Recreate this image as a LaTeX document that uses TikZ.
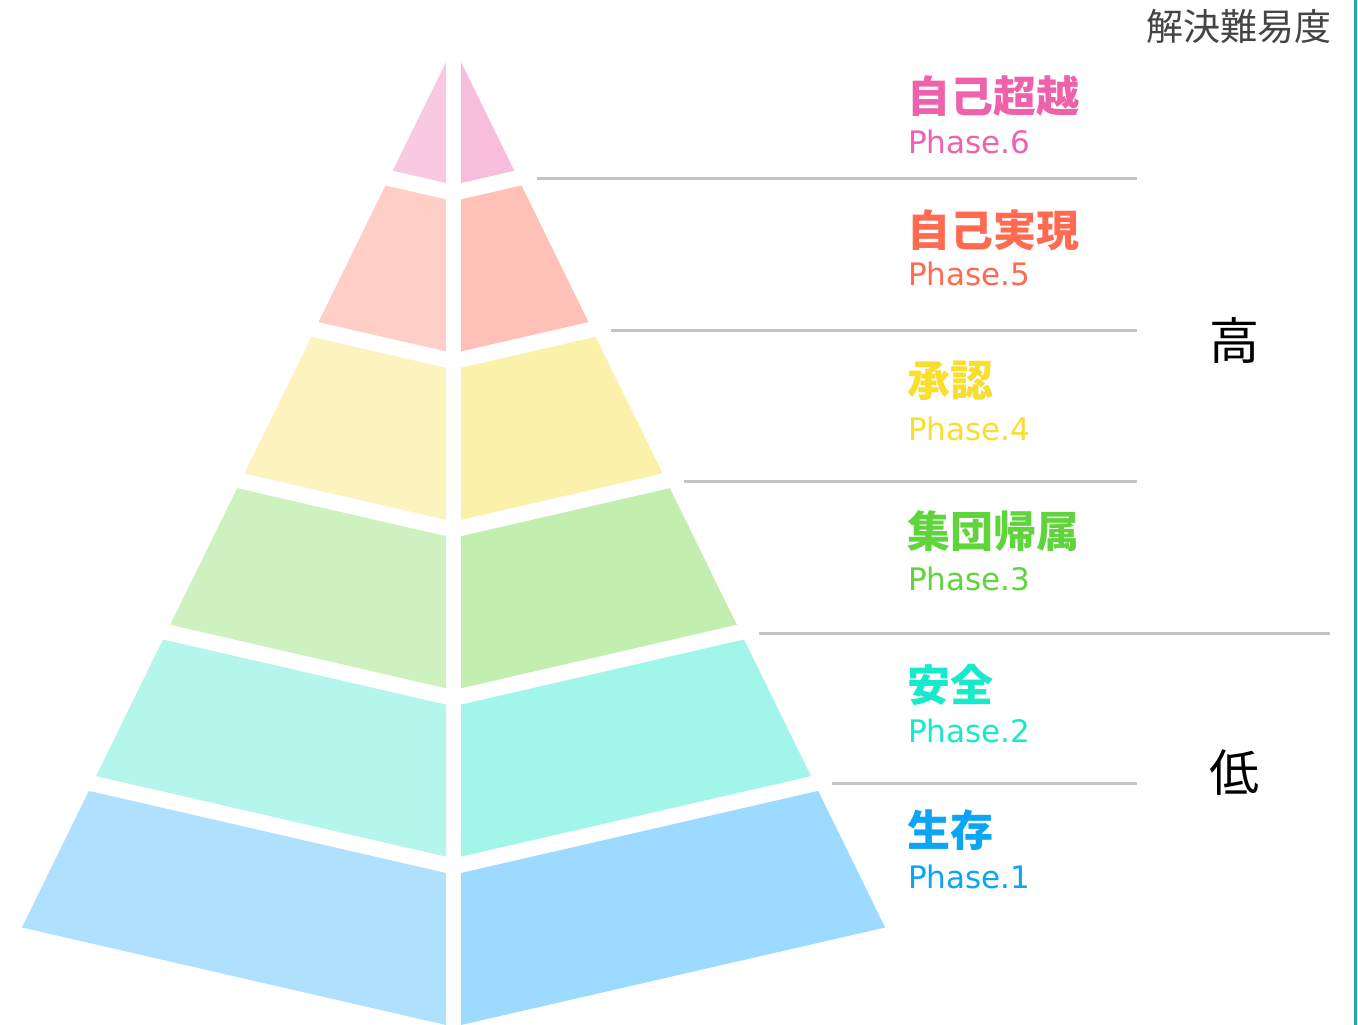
\documentclass[tikz,border=0pt]{standalone}
\usepackage{fontspec}
\newfontfamily\jp{Noto Sans CJK JP}
\newfontfamily\ph{DejaVu Sans}
\definecolor{b6l}{HTML}{F9C9E2}\definecolor{b6r}{HTML}{F8BDDC}
\definecolor{b5l}{HTML}{FFCEC6}\definecolor{b5r}{HTML}{FFC1B7}
\definecolor{b4l}{HTML}{FDF3BE}\definecolor{b4r}{HTML}{FCF1AA}
\definecolor{b3l}{HTML}{CEF2BF}\definecolor{b3r}{HTML}{C2EFAF}
\definecolor{b2l}{HTML}{B4F6EC}\definecolor{b2r}{HTML}{A1F5E9}
\definecolor{b1l}{HTML}{AFE1FF}\definecolor{b1r}{HTML}{9CDBFF}
\definecolor{c6}{HTML}{EF62AB}
\definecolor{c5}{HTML}{FF6A50}
\definecolor{c4}{HTML}{F9DE2E}
\definecolor{c3}{HTML}{60D43C}
\definecolor{c2}{HTML}{16EACB}
\definecolor{c1}{HTML}{0AA5F5}
\definecolor{sepgray}{HTML}{C4C4C4}
\definecolor{edge}{HTML}{22AAB4}
\definecolor{darkgray}{HTML}{444444}
\tikzset{
  title/.style={anchor=west, inner sep=0pt, font=\jp\bfseries\fontsize{43}{43}\selectfont},
  phase/.style={anchor=base west, inner sep=0pt, font=\ph\fontsize{31}{31}\selectfont},
  sepline/.style={draw=sepgray, line width=3pt},
  bigjp/.style={inner sep=0pt, font=\jp\fontsize{50}{50}\selectfont},
}
\begin{document}
\begin{tikzpicture}[x=1pt,y=-1pt]
\useasboundingbox (0,0) rectangle (1358,1025);
\fill[white] (0,0) rectangle (1358,1025);
% pyramid
\foreach \k/\cl/\cr in {1/b1l/b1r,2/b2l/b2r,3/b3l/b3r,4/b4l/b4r,5/b5l/b5r,6/b6l/b6r}{
  \pgfmathsetmacro\cb{1025-168.4*(\k-1)}
  \pgfmathsetmacro\ct{max(62,\cb-152)}
  \pgfmathsetmacro\db{0.4404*(\cb-62)}
  \pgfmathsetmacro\dt{0.4404*(\ct-62)}
  \fill[\cl] (446,\ct) -- ({446-\dt},{\ct-0.23*\dt}) -- ({446-\db},{\cb-0.23*\db}) -- (446,\cb) -- cycle;
  \fill[\cr] (461,\ct) -- ({461+\dt},{\ct-0.23*\dt}) -- ({461+\db},{\cb-0.23*\db}) -- (461,\cb) -- cycle;
}
% separator lines
\draw[sepline] (537,178) -- (1137,178);
\draw[sepline] (611,330) -- (1137,330);
\draw[sepline] (684,481) -- (1137,481);
\draw[sepline] (759,633) -- (1330,633);
\draw[sepline] (832,783) -- (1137,783);
% right edge
\draw[edge, line width=3.5pt] (1355.5,0) -- (1355.5,1025);
% labels
\node[title, text=c6] (t6) at (907,96) {自己超越};
\node[phase, text=c6] (p6) at (908,153) {Phase.6};
\node[title, text=c5] (t5) at (907,230) {自己実現};
\node[phase, text=c5] (p5) at (908,285) {Phase.5};
\node[title, text=c4] (t4) at (907,381) {承認};
\node[phase, text=c4] (p4) at (908,440) {Phase.4};
\node[title, text=c3] (t3) at (907,531) {集団帰属};
\node[phase, text=c3] (p3) at (908,590) {Phase.3};
\node[title, text=c2] (t2) at (907,685) {安全};
\node[phase, text=c2] (p2) at (908,742) {Phase.2};
\node[title, text=c1] (t1) at (907,830) {生存};
\node[phase, text=c1] (p1) at (908,888) {Phase.1};
% axis labels
\node[anchor=east, inner sep=0pt, text=darkgray, font=\jp\fontsize{37}{37}\selectfont] (diff) at (1332,27) {解決難易度};
\node[bigjp] (high) at (1234,340) {高};
\node[bigjp] (low) at (1234,773) {低};
\end{tikzpicture}
\end{document}
